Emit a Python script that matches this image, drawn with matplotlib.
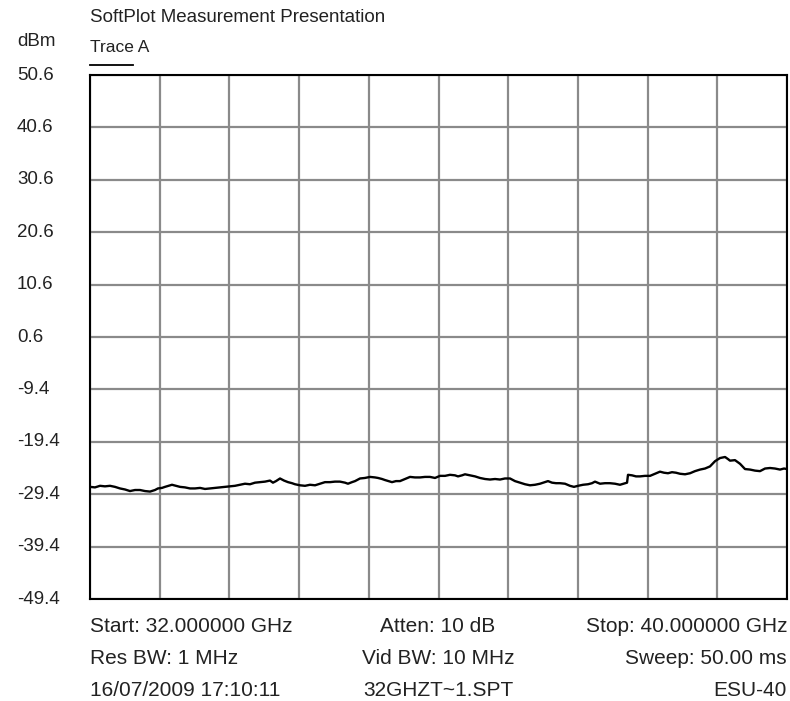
import numpy as np
import matplotlib
matplotlib.use("Agg")
import matplotlib.pyplot as plt
from matplotlib.ticker import MultipleLocator

plt.rcParams['font.family'] = ['Liberation Sans', 'DejaVu Sans']

# Sweep frequencies (GHz) and measured levels (dBm) of Trace A
freq_ghz = [
    32.000, 32.057, 32.115, 32.172, 32.230, 32.287, 32.344, 32.402, 32.459, 32.517,
    32.574, 32.631, 32.689, 32.746, 32.780, 32.826, 32.861, 32.918, 32.941, 32.987,
    33.033, 33.090, 33.148, 33.205, 33.263, 33.320, 33.377, 33.435, 33.492, 33.550,
    33.607, 33.664, 33.722, 33.779, 33.836, 33.894, 33.951, 34.009, 34.066, 34.100,
    34.135, 34.181, 34.227, 34.273, 34.319, 34.353, 34.410, 34.468, 34.525, 34.583,
    34.640, 34.697, 34.755, 34.812, 34.869, 34.927, 34.961, 35.007, 35.042, 35.099,
    35.156, 35.214, 35.271, 35.306, 35.352, 35.386, 35.443, 35.466, 35.512, 35.558,
    35.616, 35.673, 35.730, 35.788, 35.845, 35.902, 35.960, 36.017, 36.075, 36.132,
    36.189, 36.224, 36.270, 36.304, 36.362, 36.419, 36.476, 36.534, 36.591, 36.649,
    36.706, 36.763, 36.821, 36.878, 36.935, 36.993, 37.050, 37.108, 37.165, 37.222,
    37.257, 37.303, 37.349, 37.395, 37.452, 37.509, 37.555, 37.601, 37.659, 37.716,
    37.762, 37.796, 37.854, 37.911, 37.968, 38.026, 38.083, 38.141, 38.164, 38.175,
    38.221, 38.267, 38.313, 38.370, 38.428, 38.485, 38.542, 38.588, 38.634, 38.680,
    38.726, 38.772, 38.830, 38.887, 38.944, 39.002, 39.059, 39.116, 39.174, 39.231,
    39.289, 39.323, 39.346, 39.403, 39.461, 39.518, 39.576, 39.633, 39.690, 39.748,
    39.805, 39.862, 39.920, 39.966, 40.000,
]
level_dbm = [
    -28.0, -28.1, -27.8, -27.9, -27.8, -28.0, -28.3, -28.5, -28.8, -28.6,
    -28.6, -28.8, -28.9, -28.6, -28.3, -28.2, -28.0, -27.7, -27.6, -27.8,
    -28.0, -28.1, -28.3, -28.3, -28.2, -28.4, -28.3, -28.2, -28.1, -28.0,
    -27.9, -27.8, -27.6, -27.4, -27.5, -27.2, -27.1, -27.0, -26.8, -27.2,
    -26.9, -26.4, -26.8, -27.1, -27.3, -27.5, -27.7, -27.8, -27.6, -27.7,
    -27.4, -27.1, -27.1, -27.0, -27.0, -27.2, -27.4, -27.1, -26.9, -26.4,
    -26.3, -26.1, -26.2, -26.3, -26.5, -26.7, -27.0, -27.1, -26.9, -26.9,
    -26.5, -26.1, -26.2, -26.2, -26.1, -26.1, -26.3, -25.9, -25.9, -25.7,
    -25.8, -26.0, -25.8, -25.6, -25.8, -26.0, -26.3, -26.5, -26.6, -26.5,
    -26.6, -26.4, -26.4, -26.9, -27.2, -27.5, -27.7, -27.6, -27.4, -27.1,
    -26.9, -27.2, -27.3, -27.3, -27.4, -27.8, -28.0, -27.8, -27.6, -27.5,
    -27.3, -27.0, -27.4, -27.3, -27.3, -27.4, -27.6, -27.3, -27.2, -25.7,
    -25.8, -26.0, -26.0, -25.9, -25.9, -25.5, -25.1, -25.3, -25.4, -25.2,
    -25.3, -25.5, -25.6, -25.4, -25.0, -24.7, -24.5, -24.1, -23.1, -22.5,
    -22.3, -22.7, -23.0, -22.9, -23.6, -24.6, -24.7, -24.9, -25.0, -24.5,
    -24.4, -24.5, -24.7, -24.5, -24.6,
]

# Reference level grid (dBm) and frequency span
y_ticks = [50.6, 40.6, 30.6, 20.6, 10.6, 0.6, -9.4, -19.4, -29.4, -39.4, -49.4]
f_start, f_stop = 32.0, 40.0

footer_left = ["Start: 32.000000 GHz", "Res BW: 1 MHz", "16/07/2009 17:10:11"]
footer_mid = ["Atten: 10 dB", "Vid BW: 10 MHz", "32GHZT~1.SPT"]
footer_right = ["Stop: 40.000000 GHz", "Sweep: 50.00 ms", "ESU-40"]

W, H = 790, 701
fig = plt.figure(figsize=(W / 100, H / 100), dpi=100)
L, R, T, B = 90, 787, 75, 599
ax = fig.add_axes([L / W, 1 - B / H, (R - L) / W, (B - T) / H])

ax.plot(freq_ghz, level_dbm, color='black', lw=1.7, zorder=3)

ax.set_xlim(f_start, f_stop)
ax.set_ylim(min(y_ticks), max(y_ticks))
ax.xaxis.set_major_locator(MultipleLocator((f_stop - f_start) / 10))
ax.set_yticks(y_ticks)
ax.grid(True, color='#8a8a8a', lw=1.6)
ax.tick_params(length=0, labelbottom=False, labelleft=False)
for s in ax.spines.values():
    s.set_color('black')
    s.set_linewidth(1.5)
    s.set_zorder(4)

ink = '#222222'
fs_tick = 13.5
ytrans = ax.get_yaxis_transform()
for v in y_ticks:
    ax.text((17 - L) / (R - L), v, f"{v:.1f}", transform=ytrans,
            ha='left', va='center', fontsize=fs_tick, color=ink)

def fx(px):
    return px / W

def fy(py):
    return 1 - py / H

fig.text(fx(17), fy(42), "dBm", ha='left', va='center', fontsize=13.5, color=ink)
fig.text(fx(90), fy(17), "SoftPlot Measurement Presentation", ha='left', va='center',
         fontsize=13.5, color=ink)
fig.text(fx(90), fy(48), "Trace A", ha='left', va='center', fontsize=12.5, color=ink)
fig.add_artist(plt.Line2D([fx(90), fx(133)], [fy(65), fy(65)], color='black', lw=1.3))

fs_foot = 15
for i, py in enumerate([626, 659, 691]):
    fig.text(fx(90), fy(py), footer_left[i], ha='left', va='center', fontsize=fs_foot, color=ink)
    fig.text(fx(438), fy(py), footer_mid[i], ha='center', va='center', fontsize=fs_foot, color=ink)
    fig.text(fx(787), fy(py), footer_right[i], ha='right', va='center', fontsize=fs_foot, color=ink)

fig.savefig("out.png", dpi=100, facecolor='white')
